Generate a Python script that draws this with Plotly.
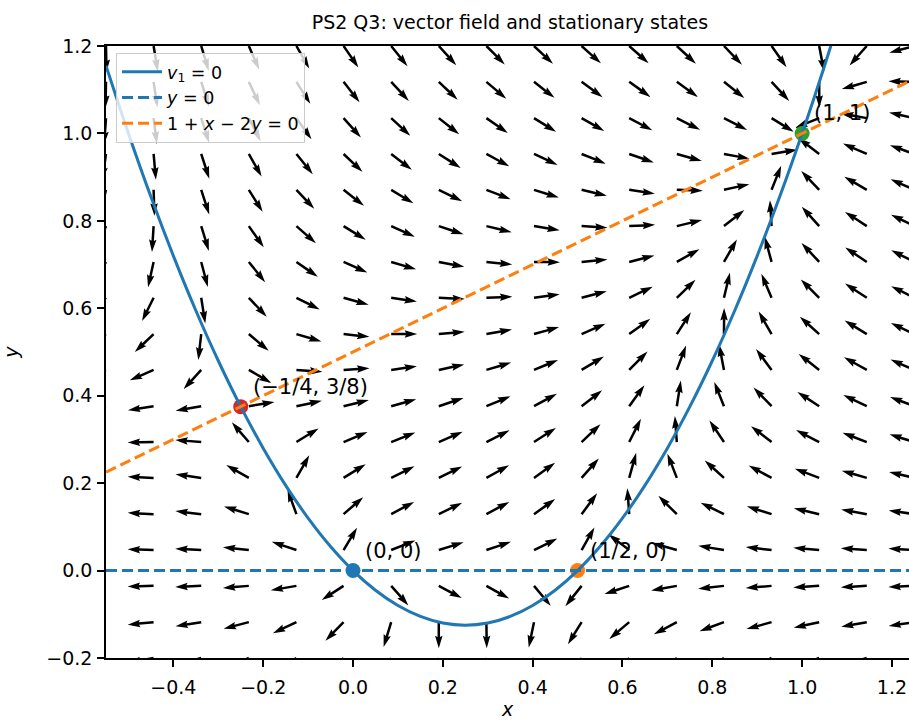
import numpy as np
import plotly.graph_objects as go

# ---------------- data ----------------
title_text = "PS2 Q3: vector field and stationary states"

# quiver grid (tails of arrows)
x_grid = [-0.55, -0.444, -0.338, -0.232, -0.126, -0.021, 0.085, 0.191, 0.297,
          0.403, 0.509, 0.615, 0.721, 0.826, 0.932, 1.038, 1.144, 1.25]
y_grid = [-0.2, -0.118, -0.035, 0.047, 0.129, 0.212, 0.294, 0.376, 0.459,
          0.541, 0.624, 0.706, 0.788, 0.871, 0.953, 1.035, 1.118, 1.2]

# v1 = 0 nullcline
curve_x = [-0.55, -0.5, -0.45, -0.4, -0.35, -0.3, -0.25, -0.2, -0.15, -0.1, -0.05,
           0.0, 0.05, 0.1, 0.15, 0.2, 0.25, 0.3, 0.35, 0.4, 0.45, 0.5, 0.55, 0.6,
           0.65, 0.7, 0.75, 0.8, 0.85, 0.9, 0.95, 1.0, 1.05, 1.1]
curve_y = [1.155, 1.0, 0.855, 0.72, 0.595, 0.48, 0.375, 0.28, 0.195, 0.12, 0.055,
           0.0, -0.045, -0.08, -0.105, -0.12, -0.125, -0.12, -0.105, -0.08, -0.045,
           0.0, 0.055, 0.12, 0.195, 0.28, 0.375, 0.48, 0.595, 0.72, 0.855, 1.0,
           1.155, 1.32]

zero_x = [-0.55, 1.25]
zero_y = [0.0, 0.0]
line_x = [-0.55, 1.25]
line_y = [0.225, 1.125]

pts_x = [0.0, 0.5, 1.0, -0.25]
pts_y = [0.0, 0.0, 1.0, 0.375]
pts_labels = ["(0, 0)", "(1/2, 0)", "(1, 1)", "(\u22121/4, 3/8)"]
pts_colors = ["#1f77b4", "#ff7f0e", "#2ca02c", "#d62728"]

x_ticks = [-0.4, -0.2, 0.0, 0.2, 0.4, 0.6, 0.8, 1.0, 1.2]
y_ticks = [-0.2, 0.0, 0.2, 0.4, 0.6, 0.8, 1.0, 1.2]


def field(x, y):
    """vector field of the system: (v1, v2)"""
    return y - 2 * x ** 2 + x, y * (1 + x - 2 * y)


# ---------------- layout constants ----------------
W, H = 909, 720
ML, MR, MT, MB = 106, 0, 46, 62
x_range = [-0.55, 1.238]
y_range = [-0.2, 1.2]
px_x = (W - ML - MR) / (x_range[1] - x_range[0])
px_y = (H - MT - MB) / (y_range[1] - y_range[0])

FONT = "DejaVu Sans"

# ---------------- arrows (normalized quiver, pivot at tail) ----------------
L = 26.0      # arrow length in px
sw = 2.5      # shaft width px
local = [(0, -sw / 2), (L - 4.5 * sw, -sw / 2), (L - 5 * sw, -1.5 * sw), (L, 0),
         (L - 5 * sw, 1.5 * sw), (L - 4.5 * sw, sw / 2), (0, sw / 2)]
ax_pts, ay_pts = [], []
for yv in y_grid:
    for xv in x_grid:
        u, v = field(xv, yv)
        n = np.hypot(u, v)
        if n == 0:
            continue
        ux, uy = u / n, v / n
        for a, p in local:
            qx = a * ux - p * uy
            qy = a * uy + p * ux
            ax_pts.append(xv + qx / px_x)
            ay_pts.append(yv + qy / px_y)
        ax_pts.append(None)
        ay_pts.append(None)

fig = go.Figure()
fig.add_trace(go.Scatter(x=ax_pts, y=ay_pts, mode="lines", fill="toself",
                         fillcolor="black", line=dict(width=0, color="black"),
                         showlegend=False, hoverinfo="skip"))

# stationary points
fig.add_trace(go.Scatter(x=pts_x, y=pts_y, mode="markers",
                         marker=dict(size=15, color=pts_colors, line=dict(width=0)),
                         showlegend=False))

# nullclines
fig.add_trace(go.Scatter(x=curve_x, y=curve_y, mode="lines", line_shape="spline",
                         line=dict(color="#1f77b4", width=3),
                         name="<i>v</i><sub>1</sub> = 0"))
fig.add_trace(go.Scatter(x=zero_x, y=zero_y, mode="lines",
                         line=dict(color="#1f77b4", width=3, dash="11px,5px"),
                         name="<i>y</i> = 0"))
fig.add_trace(go.Scatter(x=line_x, y=line_y, mode="lines",
                         line=dict(color="#ff7f0e", width=3, dash="11px,5px"),
                         name="1 + <i>x</i> \u2212 2<i>y</i> = 0"))

for xv, yv, lab in zip(pts_x, pts_y, pts_labels):
    fig.add_annotation(x=xv, y=yv, text=lab, showarrow=False, xanchor="left",
                       yanchor="middle", xshift=10, yshift=20,
                       font=dict(family=FONT, size=21, color="black"))

axis_common = dict(showline=True, linecolor="black", linewidth=1.6, ticks="outside",
                   ticklen=7, tickwidth=1.6, tickcolor="black", showgrid=False,
                   zeroline=False, tickformat=".1f",
                   tickfont=dict(family=FONT, size=19, color="black"))

fig.update_layout(
    width=W, height=H,
    margin=dict(l=ML, r=MR, t=MT, b=MB, autoexpand=False),
    paper_bgcolor="white", plot_bgcolor="white",
    title=dict(text=title_text, x=0.503, xref="paper", y=1 - 22 / H, yref="container",
               xanchor="center", yanchor="middle",
               font=dict(family=FONT, size=19, color="black")),
    xaxis=dict(range=x_range, tickvals=x_ticks, mirror=True, ticklabelstandoff=4,
               **axis_common,
               title=dict(text="<i>x</i>", standoff=10,
                          font=dict(family=FONT, size=19, color="black"))),
    yaxis=dict(range=y_range, tickvals=y_ticks, mirror=False, ticklabelstandoff=1,
               **axis_common,
               title=dict(text="<i>y</i>", standoff=30,
                          font=dict(family=FONT, size=19, color="black"))),
    legend=dict(x=0.0125, y=0.9886, xanchor="left", yanchor="top", itemwidth=40,
                bgcolor="rgba(255,255,255,0.8)", bordercolor="#cccccc", borderwidth=1,
                font=dict(family=FONT, size=17.5, color="black"), tracegroupgap=0),
    showlegend=True,
)

fig.write_html("out.html", config={"displayModeBar": False},
               post_script="document.body.style.margin='0px';")
